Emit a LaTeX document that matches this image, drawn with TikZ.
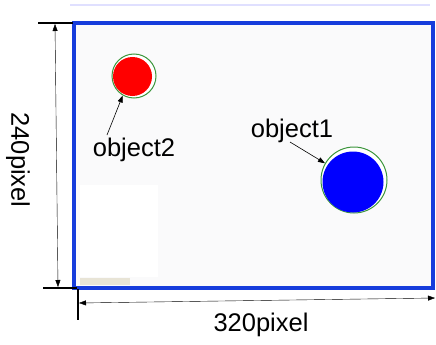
\documentclass[tikz,border=0pt]{standalone}
\usepackage{fontspec}
\setmainfont{Liberation Sans}
\usetikzlibrary{arrows.meta}
\definecolor{frameblue}{RGB}{22,60,220}
\definecolor{canvas}{RGB}{250,250,251}
\definecolor{ringgreen}{RGB}{60,150,60}
\definecolor{sand}{RGB}{232,228,214}
\tikzset{
  lbl/.style={font=\fontsize{25.5}{30}\selectfont, inner sep=0pt, text=black},
  dim/.style={thin, black},
  tick/.style={line width=1.6pt, black},
  pointer/.style={-{Triangle[length=7pt,width=5pt]}, line width=0.6pt, black},
}
\begin{document}
\begin{tikzpicture}[x=1pt,y=-1pt]
\useasboundingbox (0,0) rectangle (436,345);
% faint strip along the top edge
\fill[blue!12] (70,4) rectangle (430,6);
% image area
\fill[canvas] (74,23) rectangle (433,288);
\fill[white] (80,185) rectangle (158,277);
\fill[sand] (80,278) rectangle (130,285);
\draw[frameblue, line width=3.6pt] (74,23) rectangle (433,288);
% objects
\node[circle, draw=ringgreen, line width=1pt, fill=white, minimum size=44pt, inner sep=0pt] (ring2) at (134,76) {};
\node[circle, fill=red, minimum size=39pt, inner sep=0pt] (obj2) at (132.5,76.5) {};
\node[circle, draw=ringgreen, line width=1pt, fill=white, minimum size=66pt, inner sep=0pt] (ring1) at (354,180) {};
\node[circle, fill=blue, minimum size=61pt, inner sep=0pt] (obj1) at (353,182) {};
% labels
\node[lbl] (t2) at (134,150) {object2};
\node[lbl] (t1) at (292,131) {object1};
\coordinate (t2a) at (107,135);
\coordinate (t1a) at (290,142);
\draw[pointer] (t2a) -- (ring2.240);
\draw[pointer] (t1a) -- (ring1.150);
% dimension lines
\coordinate (tl) at (38,23);
\coordinate (tr) at (73,23);
\coordinate (bl) at (43,288);
\coordinate (br) at (77,288);
\coordinate (vt) at (78,289);
\coordinate (vb) at (78,320);
\draw[tick] (tl) -- (tr);
\draw[tick] (bl) -- (br);
\draw[tick] (vt) -- (vb);
\draw[gray!60, thin] (436,290) -- (436,315);
\coordinate (ha) at (55,24);
\coordinate (hb) at (58,287);
\draw[dim, {Triangle[length=7pt,width=5pt]}-{Triangle[length=7pt,width=5pt]}] (ha) -- (hb);
\coordinate (wa) at (79,303);
\coordinate (wb) at (435,298);
\draw[dim, {Triangle[length=7pt,width=5pt]}-{Triangle[length=7pt,width=5pt]}] (wa) -- (wb);
\node[lbl] (w) at (261,325) {320pixel};
\node[lbl, rotate=-90] (h) at (18,160) {240pixel};
\end{tikzpicture}
\end{document}
